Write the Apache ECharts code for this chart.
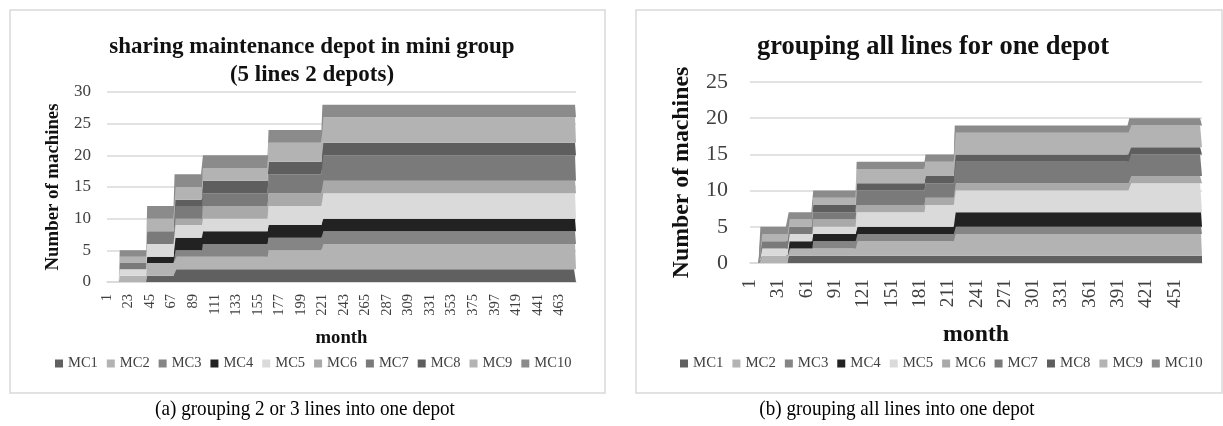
<!DOCTYPE html>
<html>
<head>
<meta charset="utf-8">
<script src="https://cdn.jsdelivr.net/npm/echarts@6/dist/echarts.min.js"></script>
<style>
html,body{margin:0;padding:0;background:#fff;}
#c{width:1223px;height:426px;}
</style>
</head>
<body>
<div id="c"></div>
<script>
// ---------- DATA ----------
const seriesNames = ['MC1','MC2','MC3','MC4','MC5','MC6','MC7','MC8','MC9','MC10'];
const seriesColors = ['#606060','#b3b3b3','#858585','#222222','#dadada','#a9a9a9','#7a7a7a','#5e5e5e','#b3b3b3','#8b8b8b'];
const monthCount = 480;

// (a) mini group: month at which each level starts, and machines per level
const leftStarts = [14, 42, 70, 99, 166, 221];
const leftMC1  = [0, 1, 2, 2, 2, 2];
const leftMC2  = [1, 2, 2, 2, 3, 4];
const leftMC3  = [0, 0, 1, 2, 2, 2];
const leftMC4  = [0, 1, 2, 2, 2, 2];
const leftMC5  = [1, 2, 2, 2, 3, 4];
const leftMC6  = [0, 0, 1, 2, 2, 2];
const leftMC7  = [1, 2, 2, 2, 3, 4];
const leftMC8  = [0, 0, 1, 2, 2, 2];
const leftMC9  = [1, 2, 2, 2, 3, 4];
const leftMC10 = [1, 2, 2, 2, 2, 2];

// (b) all lines, one depot
const rightStarts = [12, 42, 68, 114, 187, 218, 403];
const rightMC1  = [0, 1, 1, 1, 1, 1, 1];
const rightMC2  = [1, 1, 1, 2, 2, 3, 3];
const rightMC3  = [0, 0, 1, 1, 1, 1, 1];
const rightMC4  = [0, 1, 1, 1, 1, 2, 2];
const rightMC5  = [1, 1, 1, 2, 3, 3, 4];
const rightMC6  = [0, 0, 1, 1, 1, 1, 1];
const rightMC7  = [1, 1, 1, 2, 2, 3, 3];
const rightMC8  = [0, 0, 1, 1, 1, 1, 1];
const rightMC9  = [1, 1, 1, 2, 2, 3, 3];
const rightMC10 = [1, 1, 1, 1, 1, 1, 1];

const leftLevels  = [leftMC1,leftMC2,leftMC3,leftMC4,leftMC5,leftMC6,leftMC7,leftMC8,leftMC9,leftMC10];
const rightLevels = [rightMC1,rightMC2,rightMC3,rightMC4,rightMC5,rightMC6,rightMC7,rightMC8,rightMC9,rightMC10];

const leftTitle = 'sharing maintenance depot in mini group\n(5 lines 2 depots)';
const rightTitle = 'grouping all lines for one depot';
const captionA = '(a) grouping 2 or 3 lines into one depot';
const captionB = '(b) grouping all lines into one depot';
const yName = 'Number of machines';
const xName = 'month';

// ---------- BUILD ----------
const months = [];
for (let m = 1; m <= monthCount; m++) months.push(String(m));

function monthly(starts, levels) {
  const out = [];
  for (let m = 1; m <= monthCount; m++) {
    let idx = -1;
    for (let i = 0; i < starts.length; i++) if (starts[i] <= m) idx = i;
    out.push(idx < 0 ? 0 : levels[idx]);
  }
  return out;
}

const FF = 'Liberation Serif';
const series = [];
seriesNames.forEach((n, i) => {
  series.push({
    name: n, type: 'line', stack: 'a', xAxisIndex: 0, yAxisIndex: 0,
    data: monthly(leftStarts, leftLevels[i]),
    symbol: 'none', showSymbol: false, color: seriesColors[i],
    lineStyle: {width: 0}, areaStyle: {color: seriesColors[i], opacity: 1},
    emphasis: {disabled: true}
  });
});
seriesNames.forEach((n, i) => {
  series.push({
    name: n, type: 'line', stack: 'b', xAxisIndex: 1, yAxisIndex: 1,
    data: monthly(rightStarts, rightLevels[i]),
    symbol: 'none', showSymbol: false, color: seriesColors[i],
    lineStyle: {width: 0}, areaStyle: {color: seriesColors[i], opacity: 1},
    emphasis: {disabled: true}
  });
});

const gridLine = {lineStyle: {color: '#d9d9d9', width: 1.5}};

const option = {
  animation: false,
  backgroundColor: '#fff',
  grid: [
    {left: 107, top: 92, width: 469, height: 190},
    {left: 750, top: 82, width: 452, height: 181}
  ],
  xAxis: [
    {type: 'category', gridIndex: 0, data: months, boundaryGap: false,
     axisTick: {show: false}, axisLine: gridLine,
     axisLabel: {interval: 21, rotate: 90, margin: 12, fontSize: 14.5, color: '#404040', fontFamily: FF},
     name: xName, nameLocation: 'middle', nameGap: 47,
     nameTextStyle: {fontSize: 18.7, fontWeight: 'bold', color: '#111', fontFamily: FF}},
    {type: 'category', gridIndex: 1, data: months, boundaryGap: false,
     axisTick: {show: false}, axisLine: gridLine,
     axisLabel: {interval: 29, rotate: 90, margin: 16, fontSize: 19.3, color: '#404040', fontFamily: FF},
     name: xName, nameLocation: 'middle', nameGap: 60,
     nameTextStyle: {fontSize: 23.8, fontWeight: 'bold', color: '#111', fontFamily: FF}}
  ],
  yAxis: [
    {type: 'value', gridIndex: 0, min: 0, max: 30, interval: 5,
     axisLine: {show: false}, axisTick: {show: false}, splitLine: gridLine,
     axisLabel: {margin: 16, fontSize: 17, color: '#404040', fontFamily: FF},
     name: yName, nameLocation: 'middle', nameGap: 44,
     nameTextStyle: {fontSize: 18.8, fontWeight: 'bold', color: '#111', fontFamily: FF}},
    {type: 'value', gridIndex: 1, min: 0, max: 25, interval: 5,
     axisLine: {show: false}, axisTick: {show: false}, splitLine: gridLine,
     axisLabel: {margin: 22, fontSize: 22, color: '#404040', fontFamily: FF},
     name: yName, nameLocation: 'middle', nameGap: 56,
     nameTextStyle: {fontSize: 23.8, fontWeight: 'bold', color: '#111', fontFamily: FF}}
  ],
  legend: [
    {data: seriesNames, left: 50, top: 351, icon: 'rect', itemWidth: 8, itemHeight: 8, itemGap: 9,
     textStyle: {fontSize: 14.5, color: '#404040', fontFamily: FF}, selectedMode: false},
    {data: seriesNames, left: 675, top: 351, icon: 'rect', itemWidth: 8, itemHeight: 8, itemGap: 9,
     textStyle: {fontSize: 14.8, color: '#404040', fontFamily: FF}, selectedMode: false}
  ],
  graphic: [
    {type: 'rect', shape: {x: 10, y: 10, width: 595, height: 383}, style: {fill: 'none', stroke: '#d9d9d9', lineWidth: 1.5}, z: -1},
    {type: 'rect', shape: {x: 636, y: 10, width: 586, height: 383}, style: {fill: 'none', stroke: '#d9d9d9', lineWidth: 1.5}, z: -1},
    {type: 'text', x: 312, y: 61, style: {text: leftTitle, textAlign: 'center', textVerticalAlign: 'middle', font: 'bold 23px "Liberation Serif"', lineHeight: 28, fill: '#111'}},
    {type: 'text', x: 933, y: 47, style: {text: rightTitle, textAlign: 'center', textVerticalAlign: 'middle', font: 'bold 26.5px "Liberation Serif"', fill: '#111'}},
    {type: 'text', x: 305, y: 409, scaleX: 0.87, style: {text: captionA, textAlign: 'center', textVerticalAlign: 'middle', font: '22px "Liberation Serif"', fill: '#000'}},
    {type: 'text', x: 897, y: 409, scaleX: 0.87, style: {text: captionB, textAlign: 'center', textVerticalAlign: 'middle', font: '22px "Liberation Serif"', fill: '#000'}}
  ],
  series: series
};

const chart = echarts.init(document.getElementById('c'), null, {renderer: 'canvas'});
chart.setOption(option);
</script>
</body>
</html>
